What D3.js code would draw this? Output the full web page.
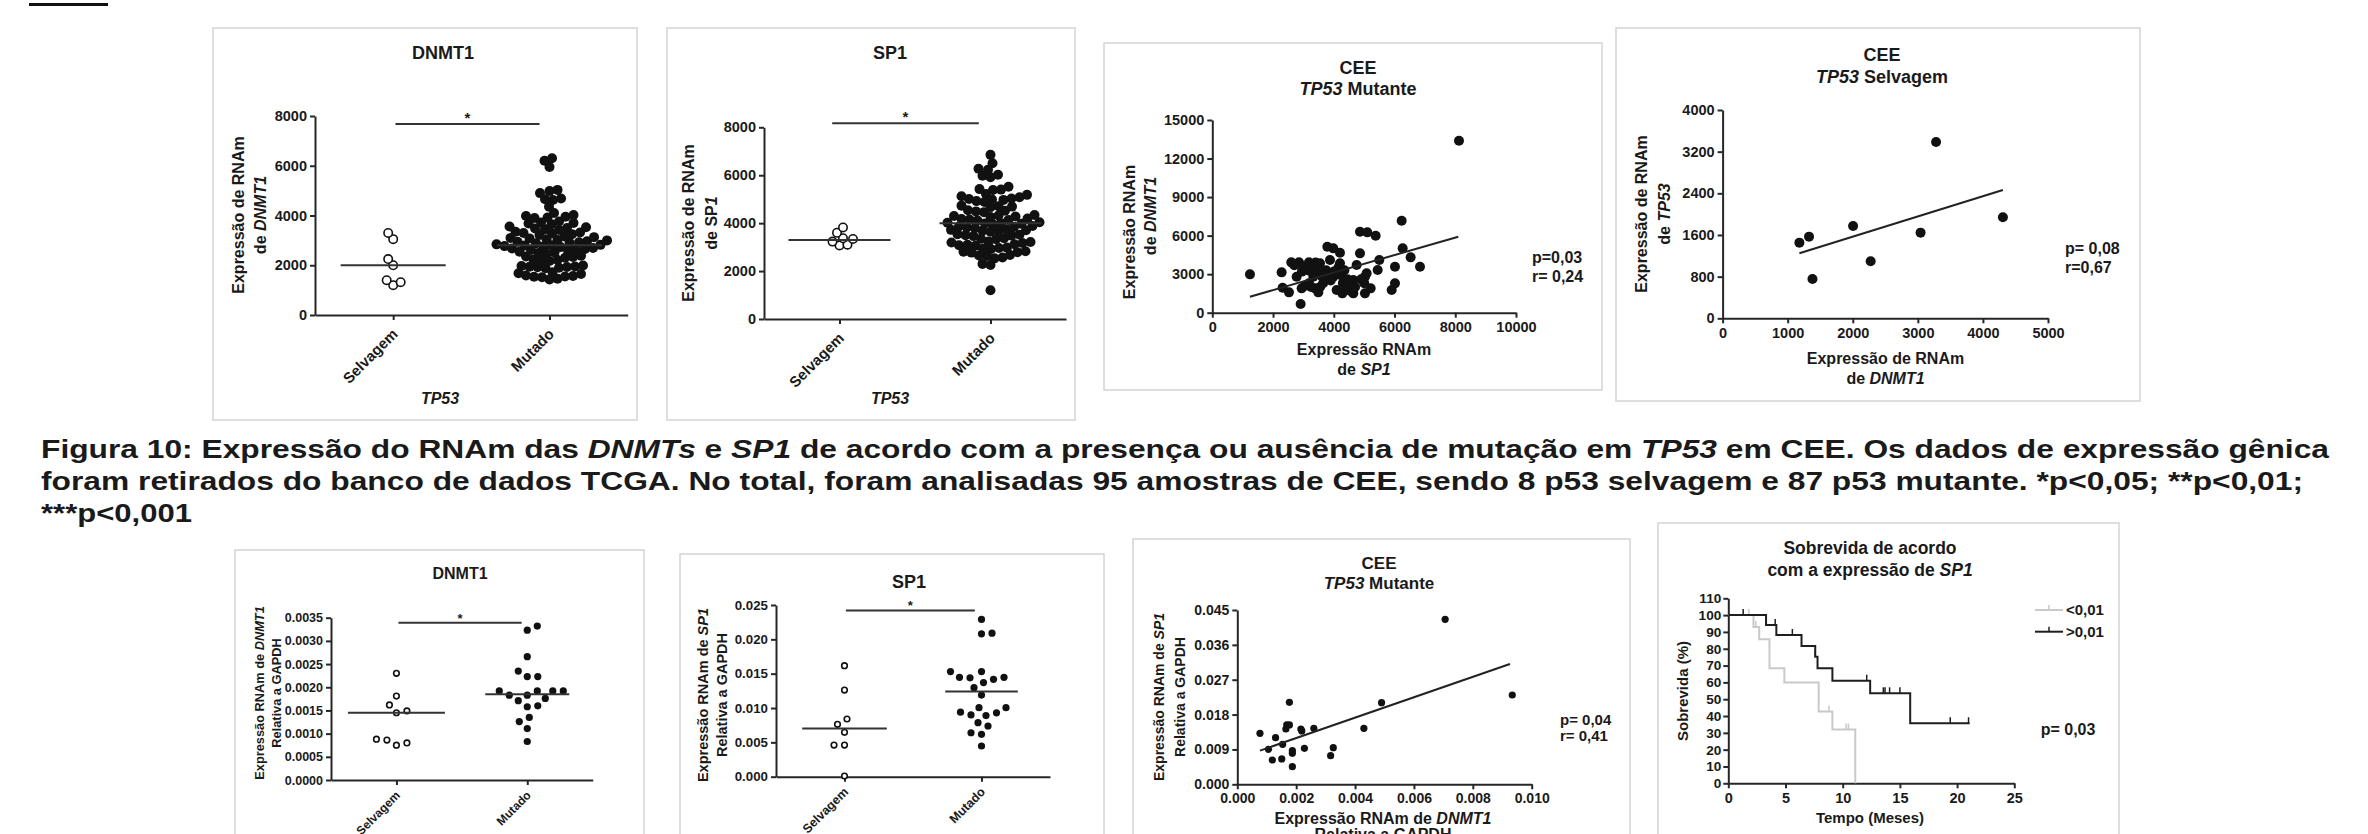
<!DOCTYPE html>
<html>
<head>
<meta charset="utf-8">
<title>Figura 10</title>
<script src="https://d3js.org/d3.v7.min.js"></script>
<style>
  body { margin: 0; background: #fff; }
  svg text { font-family: "Liberation Sans", Arial, sans-serif; font-weight: bold; fill: #1a1a1a; }
</style>
</head>
<body>
<script>
// ---------- dados ----------
const dotCats = ["Selvagem", "Mutado"];

// TCGA - DNMT1 por status de TP53
const dnmt1Selv = [3300, 3050, 2250, 2000, 1400, 1200, 1320];
const dnmt1Mut = [6300, 6200, 5950, 5030, 4980, 4900, 4680, 4650, 4620, 4350, 4100, 4020, 3980,
  3950, 3920, 3900, 3760, 3720, 3700, 3680, 3650, 3560, 3530, 3500, 3480, 3450, 3420,
  3350, 3320, 3300, 3280, 3250, 3220, 3160, 3130, 3100, 3080, 3050, 3020, 3000,
  2960, 2940, 2920, 2900, 2880, 2840, 2820, 2800, 2790, 2770, 2750, 2730,
  2690, 2670, 2650, 2630, 2610, 2590, 2540, 2510, 2490, 2460, 2380, 2350, 2330, 2300,
  2230, 2210, 2190, 2170, 1990, 1970, 1950, 1940, 1930, 1920, 1900, 1880,
  1720, 1680, 1650, 1590, 1570, 1550, 1540, 1520, 1460, 1430];
const dnmt1Medians = [2000, 2800];
const dnmt1Ticks = [0, 2000, 4000, 6000, 8000];

// TCGA - SP1 por status de TP53
const sp1Selv = [3820, 3600, 3370, 3340, 3230, 3070, 3100];
const sp1Mut = [6850, 6500, 6270, 6230, 6020, 5920, 5980, 5520, 5420, 5400, 5380,
  5220, 5180, 5120, 5080, 5030, 5010, 4990, 4970, 4920, 4880, 4730, 4710, 4690, 4670,
  4540, 4520, 4490, 4460, 4340, 4320, 4300, 4280, 4260, 4190, 4170, 4150, 4130, 4110,
  4040, 4020, 4000, 3990, 3970, 3950, 3880, 3860, 3840, 3820, 3800,
  3740, 3720, 3700, 3680, 3660, 3640, 3540, 3520, 3500, 3480, 3460, 3370, 3350, 3330,
  3230, 3210, 3190, 3170, 3120, 3100, 3080, 3060, 2980, 2960, 2940, 2920,
  2830, 2810, 2790, 2770, 2670, 2650, 2630, 2570, 2530, 2300, 2250, 1200];
const sp1Medians = [3300, 4000];

// CEE TP53 mutante: SP1 (x) vs DNMT1 (y)
const ceeMutSP1 = [1240, 8123, 2283, 2316, 2525, 2600, 2854, 2909, 2777, 2942, 2997, 3183, 3183, 3194,
  3326, 3381, 3491, 3546, 3600, 3633, 3820, 3875, 3787, 3985, 4204, 4204, 3985, 4094, 4281, 4533,
  4643, 4643, 4753, 4863, 4863, 5104, 5027, 5027, 5082, 5214, 5379, 5445, 5500, 5906, 6015, 6015,
  6235, 6268, 6531, 6839, 3100, 3300, 3450, 3700, 3750, 3900, 4000, 4150, 4250, 4300, 4400, 4450,
  4550, 3050, 3250, 2700, 3400, 3650, 4100, 4700, 4900, 5000, 3550, 4350, 2950, 3850];
const ceeMutDNMT1 = [2985, 13390, 3140, 1946, 1583, 3919, 3919, 675, 2803, 1894, 3581, 3919, 2284, 3270,
  2803, 1894, 1583, 3841, 2855, 3062, 2673, 4100, 5138, 5008, 4671, 3841, 2803, 1765, 1505, 2154,
  2543, 1505, 3711, 4619, 6306, 6254, 2803, 1505, 3062, 1894, 5995, 3322, 4100, 1765, 2284, 3581,
  7163, 5008, 4308, 3581, 3400, 3500, 3300, 2600, 3300, 2500, 3200, 3500, 2900, 2300, 1900, 2600,
  1700, 2100, 2000, 3700, 3900, 2300, 3000, 2000, 2600, 2300, 2000, 3300, 3200, 2800];
const ceeMutFitX = [1240, 8100];
const ceeMutFitY = [1246, 5917];
const ceeMutXTicks = [0, 2000, 4000, 6000, 8000, 10000];
const ceeMutYTicks = [0, 3000, 6000, 9000, 12000, 15000];

// CEE TP53 selvagem: DNMT1 (x) vs TP53 (y)
const ceeSelvDNMT1 = [1180, 1328, 1381, 2005, 2275, 3042, 3280, 4307];
const ceeSelvTP53 = [1453, 1568, 755, 1773, 1094, 1645, 3386, 1939];
const ceeSelvFitX = [1180, 4307];
const ceeSelvFitY = [1248, 2464];
const ceeSelvXTicks = [0, 1000, 2000, 3000, 4000, 5000];
const ceeSelvYTicks = [0, 800, 1600, 2400, 3200, 4000];

// amostras proprias - DNMT1 relativa a GAPDH
const gDnmt1Selv = [0.0023, 0.00181, 0.00162, 0.00149, 0.00145, 0.00086, 0.00075, 0.0008, 0.00088];
const gDnmt1Mut = [0.00332, 0.00323, 0.00266, 0.00223, 0.00223, 0.00235, 0.00192, 0.00192, 0.00183,
  0.00183, 0.00176, 0.00192, 0.00192, 0.00171, 0.0016, 0.00158, 0.00135, 0.00126, 0.00111, 0.00083];
const gDnmt1Medians = [0.00145, 0.00185];
const gDnmt1Ticks = [0, 0.0005, 0.001, 0.0015, 0.002, 0.0025, 0.003, 0.0035];

// amostras proprias - SP1 relativa a GAPDH
const gSp1Selv = [0.01617, 0.01262, 0.0084, 0.00762, 0.00646, 0.00461, 0.00461, 0.0001];
const gSp1Mut = [0.0229, 0.0209, 0.0208, 0.01447, 0.01418, 0.0153, 0.0153, 0.0137, 0.0144, 0.01447,
  0.01296, 0.01189, 0.01005, 0.01005, 0.009, 0.0094, 0.0089, 0.0093, 0.00786, 0.00738, 0.0064,
  0.00617, 0.00447];
const gSp1Medians = [0.007, 0.0124];
const gSp1Ticks = [0, 0.005, 0.01, 0.015, 0.02, 0.025];

// amostras proprias - DNMT1 (x) vs SP1 (y)
const gCorrDNMT1 = [0.00077, 0.00106, 0.00119, 0.0013, 0.00151, 0.00154, 0.00165, 0.00168, 0.00177,
  0.00177, 0.00187, 0.00187, 0.00187, 0.00216, 0.00219, 0.00228, 0.0026, 0.00317, 0.00326, 0.0043,
  0.0049, 0.00706, 0.00934];
const gCorrSP1 = [0.01316, 0.00903, 0.00628, 0.01205, 0.00654, 0.01033, 0.01428, 0.01532, 0.01532,
  0.02117, 0.00869, 0.008, 0.00456, 0.01428, 0.01377, 0.00929, 0.01446, 0.0074, 0.00946, 0.01446,
  0.02108, 0.04259, 0.02306];
const gCorrFitX = [0.00077, 0.00926];
const gCorrFitY = [0.00869, 0.03106];
const gCorrXTicks = [0, 0.002, 0.004, 0.006, 0.008, 0.010];
const gCorrYTicks = [0, 0.009, 0.018, 0.027, 0.036, 0.045];

// sobrevida (Kaplan-Meier)
const kmLowTime = [0, 2.2, 2.7, 3.6, 4.9, 7.9, 9.1, 11.1];
const kmLowSurv = [100, 92.9, 85.7, 68.4, 60.0, 42.7, 32.0, 0];
const kmLowCens = [1.8, 2.4, 8.8, 10.3, 10.5];
const kmHighTime = [0, 3.3, 4.2, 6.4, 7.6, 7.8, 9.1, 12.4, 15.9, 21.1];
const kmHighSurv = [100, 94.1, 88.2, 81.7, 75.3, 68.4, 61.0, 53.5, 35.7, 35.7];
const kmHighCens = [1.3, 4.1, 5.6, 7.6, 12.1, 13.55, 13.7, 14.1, 15.0, 19.4, 21.0];
const kmXTicks = [0, 5, 10, 15, 20, 25];
const kmYTicks = [0, 10, 20, 30, 40, 50, 60, 70, 80, 90, 100, 110];

const captionLines = [
  [["Figura 10: Expressão do RNAm das ", 0], ["DNMTs", 1], [" e ", 0], ["SP1", 1],
   [" de acordo com a presença ou ausência de mutação em ", 0], ["TP53", 1],
   [" em CEE. Os dados de expressão gênica", 0]],
  [["foram retirados do banco de dados TCGA. No total, foram analisadas 95 amostras de CEE, sendo 8 p53 selvagem e 87 p53 mutante. *p<0,05; **p<0,01;", 0]],
  [["***p<0,001", 0]]
];
const captionWidths = [2288, 2262, 151];

// ---------- desenho ----------
const svg = d3.select("body").append("svg").attr("width", 2368).attr("height", 834);
const ink = "#1a1a1a";

function panelBox(x0, y0, x1, y1) {
  svg.append("rect").attr("x", x0).attr("y", y0).attr("width", x1 - x0).attr("height", y1 - y0)
    .attr("fill", "none").attr("stroke", "#d4d4d4").attr("stroke-width", 1.5);
}

// texto com partes em italico; y = centro visual
function label(x, cy, parts, size, opts) {
  opts = opts || {};
  if (typeof parts === "string") parts = [[parts, 0]];
  const off = 0.35 * size;
  const t = svg.append("text").attr("font-size", size).attr("text-anchor", opts.anchor || "middle");
  if (opts.rotate) {
    t.attr("x", x + off).attr("y", cy).attr("transform", `rotate(-90, ${x + off}, ${cy})`);
  } else {
    t.attr("x", x).attr("y", cy + off);
  }
  if (opts.normal) t.attr("font-weight", "normal");
  parts.forEach(p => t.append("tspan").text(p[0]).attr("font-style", p[1] ? "italic" : null));
  return t;
}

function styleAxis(g, size) {
  g.select(".domain").attr("stroke", "#262626").attr("stroke-width", 2);
  g.selectAll(".tick line").attr("stroke", "#262626").attr("stroke-width", 2);
  g.selectAll(".tick text").attr("font-size", size).attr("fill", ink);
}

// espalhamento tipo GraphPad: desloca na horizontal so quando os pontos se sobrepoem
function swarm(vals, y, minD) {
  const placed = [];
  const order = vals.map((v, i) => i).sort((a, b) => vals[a] - vals[b]);
  order.forEach((i, n) => {
    const py = y(vals[i]);
    const flip = n % 2 === 0 ? 1 : -1;
    let dx = 0;
    for (let k = 0; k < 400; k++) {
      const cand = flip * (k % 2 === 0 ? 1 : -1) * Math.ceil(k / 2) * 0.5;
      if (placed.every(p => (p.dx - cand) ** 2 + (p.y - py) ** 2 >= minD * minD)) { dx = cand; break; }
    }
    placed.push({ dx: dx, y: py });
  });
  return placed;
}

function dotPanel(c) {
  const x = d3.scalePoint().domain(dotCats).range([c.left, c.right]).padding(0.5);
  const y = d3.scaleLinear().domain([0, c.yTicks[c.yTicks.length - 1]]).range([c.bottom, c.top]);

  const gy = svg.append("g").attr("transform", `translate(${c.left},0)`)
    .call(d3.axisLeft(y).tickValues(c.yTicks).tickFormat(c.fmt).tickSize(5).tickSizeOuter(0).tickPadding(3));
  styleAxis(gy, c.tickFont);

  const gx = svg.append("g").attr("transform", `translate(0,${c.bottom})`)
    .call(d3.axisBottom(x).tickSize(5).tickSizeOuter(0));
  styleAxis(gx, c.catFont);
  gx.selectAll(".tick text").attr("x", 0).attr("y", 0).attr("dy", 0).attr("text-anchor", "end")
    .attr("transform", `translate(${c.catOff[0]},${c.catOff[1]}) rotate(-45)`);

  [c.selv, c.mut].forEach((vals, i) => {
    const cx = x(dotCats[i]);
    const pts = swarm(vals, y, c.minD);
    svg.append("g").selectAll("circle").data(pts).join("circle")
      .attr("cx", d => cx + d.dx).attr("cy", d => d.y)
      .attr("r", i === 0 ? c.r - 0.8 : c.r)
      .attr("fill", i === 0 ? "#fff" : "#111")
      .attr("stroke", "#111").attr("stroke-width", i === 0 ? 1.6 : 0);
    svg.append("line")
      .attr("x1", cx - c.medHalf[i]).attr("x2", cx + c.medHalf[i])
      .attr("y1", y(c.med[i])).attr("y2", y(c.med[i]))
      .attr("stroke", "#333").attr("stroke-width", 2);
  });

  // barra de significancia
  const sy = y(c.sigLevel);
  const sx0 = x(dotCats[0]) + c.sigPad[0], sx1 = x(dotCats[1]) + c.sigPad[1];
  svg.append("line").attr("x1", sx0).attr("x2", sx1)
    .attr("y1", sy).attr("y2", sy).attr("stroke", "#333").attr("stroke-width", 2);
  svg.append("text").attr("x", (sx0 + sx1) / 2)
    .attr("y", sy + c.starDy).attr("text-anchor", "middle").attr("font-size", c.starFont).text("*");
}

function scatterPanel(c, xs, ys, fitX, fitY) {
  const x = d3.scaleLinear().domain([0, c.xTicks[c.xTicks.length - 1]]).range([c.left, c.right]);
  const y = d3.scaleLinear().domain([0, c.yTicks[c.yTicks.length - 1]]).range([c.bottom, c.top]);

  const gy = svg.append("g").attr("transform", `translate(${c.left},0)`)
    .call(d3.axisLeft(y).tickValues(c.yTicks).tickFormat(c.yFmt).tickSize(5).tickSizeOuter(0).tickPadding(3));
  styleAxis(gy, c.tickFont);
  const gx = svg.append("g").attr("transform", `translate(0,${c.bottom})`)
    .call(d3.axisBottom(x).tickValues(c.xTicks).tickFormat(c.xFmt).tickSize(5).tickSizeOuter(0).tickPadding(4));
  styleAxis(gx, c.tickFont);

  svg.append("g").selectAll("circle").data(xs).join("circle")
    .attr("cx", d => x(d)).attr("cy", (d, i) => y(ys[i])).attr("r", c.r).attr("fill", "#111");

  svg.append("line").attr("x1", x(fitX[0])).attr("y1", y(fitY[0]))
    .attr("x2", x(fitX[1])).attr("y2", y(fitY[1])).attr("stroke", "#222").attr("stroke-width", 2);
}

function survAt(times, surv, t) {
  return surv[Math.max(0, d3.bisectRight(times, t) - 1)];
}

// ---------- figura ----------
svg.append("line").attr("x1", 29).attr("x2", 108).attr("y1", 4.5).attr("y2", 4.5)
  .attr("stroke", "#111").attr("stroke-width", 3);

// painel 1: DNMT1 (TCGA)
panelBox(213, 28, 637, 420);
label(443, 53, "DNMT1", 18);
dotPanel({ left: 315, right: 627.7, top: 116, bottom: 315, yTicks: dnmt1Ticks, fmt: d3.format("d"),
  selv: dnmt1Selv, mut: dnmt1Mut, med: dnmt1Medians, medHalf: [52.5, 52.5], r: 5, minD: 7.8,
  tickFont: 14.5, catFont: 15, catOff: [5, 20], sigLevel: 7680, sigPad: [2.3, -10], starDy: -1, starFont: 15 });
label(238, 215, "Expressão de RNAm", 16, { rotate: true });
label(260, 215, [["de ", 0], ["DNMT1", 1]], 16, { rotate: true });
label(440, 398, [["TP53", 1]], 16);

// painel 2: SP1 (TCGA)
panelBox(667, 28, 1075, 420);
label(890, 53, "SP1", 18);
dotPanel({ left: 764, right: 1066, top: 127.3, bottom: 319, yTicks: dnmt1Ticks, fmt: d3.format("d"),
  selv: sp1Selv, mut: sp1Mut, med: sp1Medians, medHalf: [51, 51], r: 5, minD: 7.8,
  tickFont: 14.5, catFont: 15, catOff: [5, 20], sigLevel: 8170, sigPad: [-7.3, -11.7], starDy: -1, starFont: 15 });
label(688, 223, "Expressão de RNAm", 16, { rotate: true });
label(711.7, 223, [["de SP", 0], ["1", 1]], 16, { rotate: true });
label(890, 398, [["TP53", 1]], 16);

// painel 3: CEE TP53 mutante (TCGA)
panelBox(1104, 43, 1602, 390);
label(1358, 68, "CEE", 18);
label(1358, 89, [["TP53", 1], [" Mutante", 0]], 18);
scatterPanel({ left: 1212.3, right: 1516, top: 120, bottom: 312.7, xTicks: ceeMutXTicks, yTicks: ceeMutYTicks,
  xFmt: d3.format("d"), yFmt: d3.format("d"), tickFont: 14.5, r: 5 }, ceeMutSP1, ceeMutDNMT1, ceeMutFitX, ceeMutFitY);
label(1129, 232, "Expressão RNAm", 16, { rotate: true });
label(1150.7, 216, [["de ", 0], ["DNMT1", 1]], 16, { rotate: true });
label(1364, 349, "Expressão RNAm", 16);
label(1364, 369, [["de ", 0], ["SP1", 1]], 16);
label(1532, 257, "p=0,03", 16, { anchor: "start" });
label(1532, 276, "r= 0,24", 16, { anchor: "start" });

// painel 4: CEE TP53 selvagem (TCGA)
panelBox(1616, 28, 2140, 401);
label(1882, 55, "CEE", 18);
label(1882, 77, [["TP53", 1], [" Selvagem", 0]], 18);
scatterPanel({ left: 1722.6, right: 2048, top: 110, bottom: 318.3, xTicks: ceeSelvXTicks, yTicks: ceeSelvYTicks,
  xFmt: d3.format("d"), yFmt: d3.format("d"), tickFont: 14.5, r: 5 }, ceeSelvDNMT1, ceeSelvTP53, ceeSelvFitX, ceeSelvFitY);
label(1641, 214, "Expressão de RNAm", 16, { rotate: true });
label(1664, 214, [["de ", 0], ["TP53", 1]], 16, { rotate: true });
label(1885.5, 358, "Expressão de RNAm", 16);
label(1885.5, 378, [["de ", 0], ["DNMT1", 1]], 16);
label(2065, 248, "p= 0,08", 16, { anchor: "start" });
label(2065, 267, "r=0,67", 16, { anchor: "start" });

// legenda da figura
captionLines.forEach((line, li) => {
  const t = svg.append("text").attr("x", 41).attr("y", 458.3 + li * 31.7).attr("font-size", 26)
    .attr("textLength", captionWidths[li]).attr("lengthAdjust", "spacingAndGlyphs");
  line.forEach(p => t.append("tspan").text(p[0]).attr("font-style", p[1] ? "italic" : null));
});

// painel 5: DNMT1 relativa a GAPDH
panelBox(235, 550, 644, 900);
label(460, 573, "DNMT1", 16);
dotPanel({ left: 331, right: 592.7, top: 617.7, bottom: 780, yTicks: gDnmt1Ticks, fmt: d3.format(".4f"),
  selv: gDnmt1Selv, mut: gDnmt1Mut, med: gDnmt1Medians, medHalf: [48.5, 42], r: 3.6, minD: 10.5,
  tickFont: 12.5, catFont: 12, catOff: [4, 16], sigLevel: 0.00339, sigPad: [2, -5.6], starDy: 0, starFont: 13 });
label(260, 693, [["Expressão RNAm de ", 0], ["DNMT1", 1]], 12.8, { rotate: true });
label(276.5, 693, "Relativa a GAPDH", 12.8, { rotate: true });

// painel 6: SP1 relativa a GAPDH
panelBox(680, 554, 1104, 900);
label(909, 581.7, "SP1", 18);
dotPanel({ left: 776, right: 1050, top: 605, bottom: 776.7, yTicks: gSp1Ticks, fmt: d3.format(".3f"),
  selv: gSp1Selv, mut: gSp1Mut, med: gSp1Medians, medHalf: [42.3, 36.3], r: 3.6, minD: 10.5,
  tickFont: 13.3, catFont: 12.5, catOff: [4, 16], sigLevel: 0.0242, sigPad: [1.4, -6.7], starDy: 0, starFont: 13 });
label(702.7, 695, [["Expressão RNAm de ", 0], ["SP1", 1]], 14.5, { rotate: true });
label(721.7, 695, "Relativa a GAPDH", 14.5, { rotate: true });

// painel 7: correlacao DNMT1 x SP1 (GAPDH)
panelBox(1133, 539, 1630, 900);
label(1379, 563, "CEE", 17);
label(1379, 583, [["TP53", 1], [" Mutante", 0]], 17);
scatterPanel({ left: 1237.3, right: 1531.7, top: 610, bottom: 784.3, xTicks: gCorrXTicks, yTicks: gCorrYTicks,
  xFmt: d3.format(".3f"), yFmt: d3.format(".3f"), tickFont: 14, r: 3.6 }, gCorrDNMT1, gCorrSP1, gCorrFitX, gCorrFitY);
label(1159, 697, [["Expressão RNAm de ", 0], ["SP1", 1]], 14, { rotate: true });
label(1180, 697, "Relativa a GAPDH", 14, { rotate: true });
label(1383, 818, [["Expressão RNAm de ", 0], ["DNMT1", 1]], 16);
label(1383, 834, "Relativa a GAPDH", 16);
label(1560, 720, "p= 0,04", 15, { anchor: "start" });
label(1560, 736, "r= 0,41", 15, { anchor: "start" });

// painel 8: sobrevida
panelBox(1658, 523, 2119, 900);
label(1870, 548, "Sobrevida de acordo", 17.5);
label(1870, 570, [["com a expressão de ", 0], ["SP1", 1]], 17.5);
(function () {
  const x = d3.scaleLinear().domain([0, 25]).range([1728.3, 2014.3]);
  const y = d3.scaleLinear().domain([0, 110]).range([783.3, 598.3]);
  const gy = svg.append("g").attr("transform", "translate(1728.3,0)")
    .call(d3.axisLeft(y).tickValues(kmYTicks).tickSize(5).tickSizeOuter(0).tickPadding(2));
  styleAxis(gy, 13.6);
  const gx = svg.append("g").attr("transform", "translate(0,783.3)")
    .call(d3.axisBottom(x).tickValues(kmXTicks).tickSize(5).tickSizeOuter(0).tickPadding(4));
  styleAxis(gx, 14.5);

  const step = d3.line().curve(d3.curveStepAfter).x(d => x(d[0])).y(d => y(d[1]));
  const groups = [
    { t: kmLowTime, s: kmLowSurv, c: kmLowCens, col: "#c9c9c9" },
    { t: kmHighTime, s: kmHighSurv, c: kmHighCens, col: "#1e1e1e" }
  ];
  groups.forEach(g => {
    svg.append("path").datum(g.t.map((t, i) => [t, g.s[i]]))
      .attr("d", step).attr("fill", "none").attr("stroke", g.col).attr("stroke-width", 2);
    svg.append("g").selectAll("line").data(g.c).join("line")
      .attr("x1", d => x(d)).attr("x2", d => x(d))
      .attr("y1", d => y(survAt(g.t, g.s, d))).attr("y2", d => y(survAt(g.t, g.s, d)) - 6)
      .attr("stroke", g.col).attr("stroke-width", 1.5);
  });
  // legenda
  const legY = [610, 631.7];
  groups.forEach((g, i) => {
    svg.append("line").attr("x1", 2035).attr("x2", 2063).attr("y1", legY[i]).attr("y2", legY[i])
      .attr("stroke", g.col).attr("stroke-width", 2);
    svg.append("line").attr("x1", 2049).attr("x2", 2049).attr("y1", legY[i]).attr("y2", legY[i] - 5)
      .attr("stroke", g.col).attr("stroke-width", 1.5);
  });
  label(2066, 610, "<0,01", 15, { anchor: "start", normal: true });
  label(2066, 631.7, ">0,01", 15, { anchor: "start", normal: true });
})();
label(1683, 691, "Sobrevida (%)", 15, { rotate: true });
label(1870, 818, "Tempo (Meses)", 15);
label(2040.7, 729, "p= 0,03", 16, { anchor: "start" });
</script>
</body>
</html>
